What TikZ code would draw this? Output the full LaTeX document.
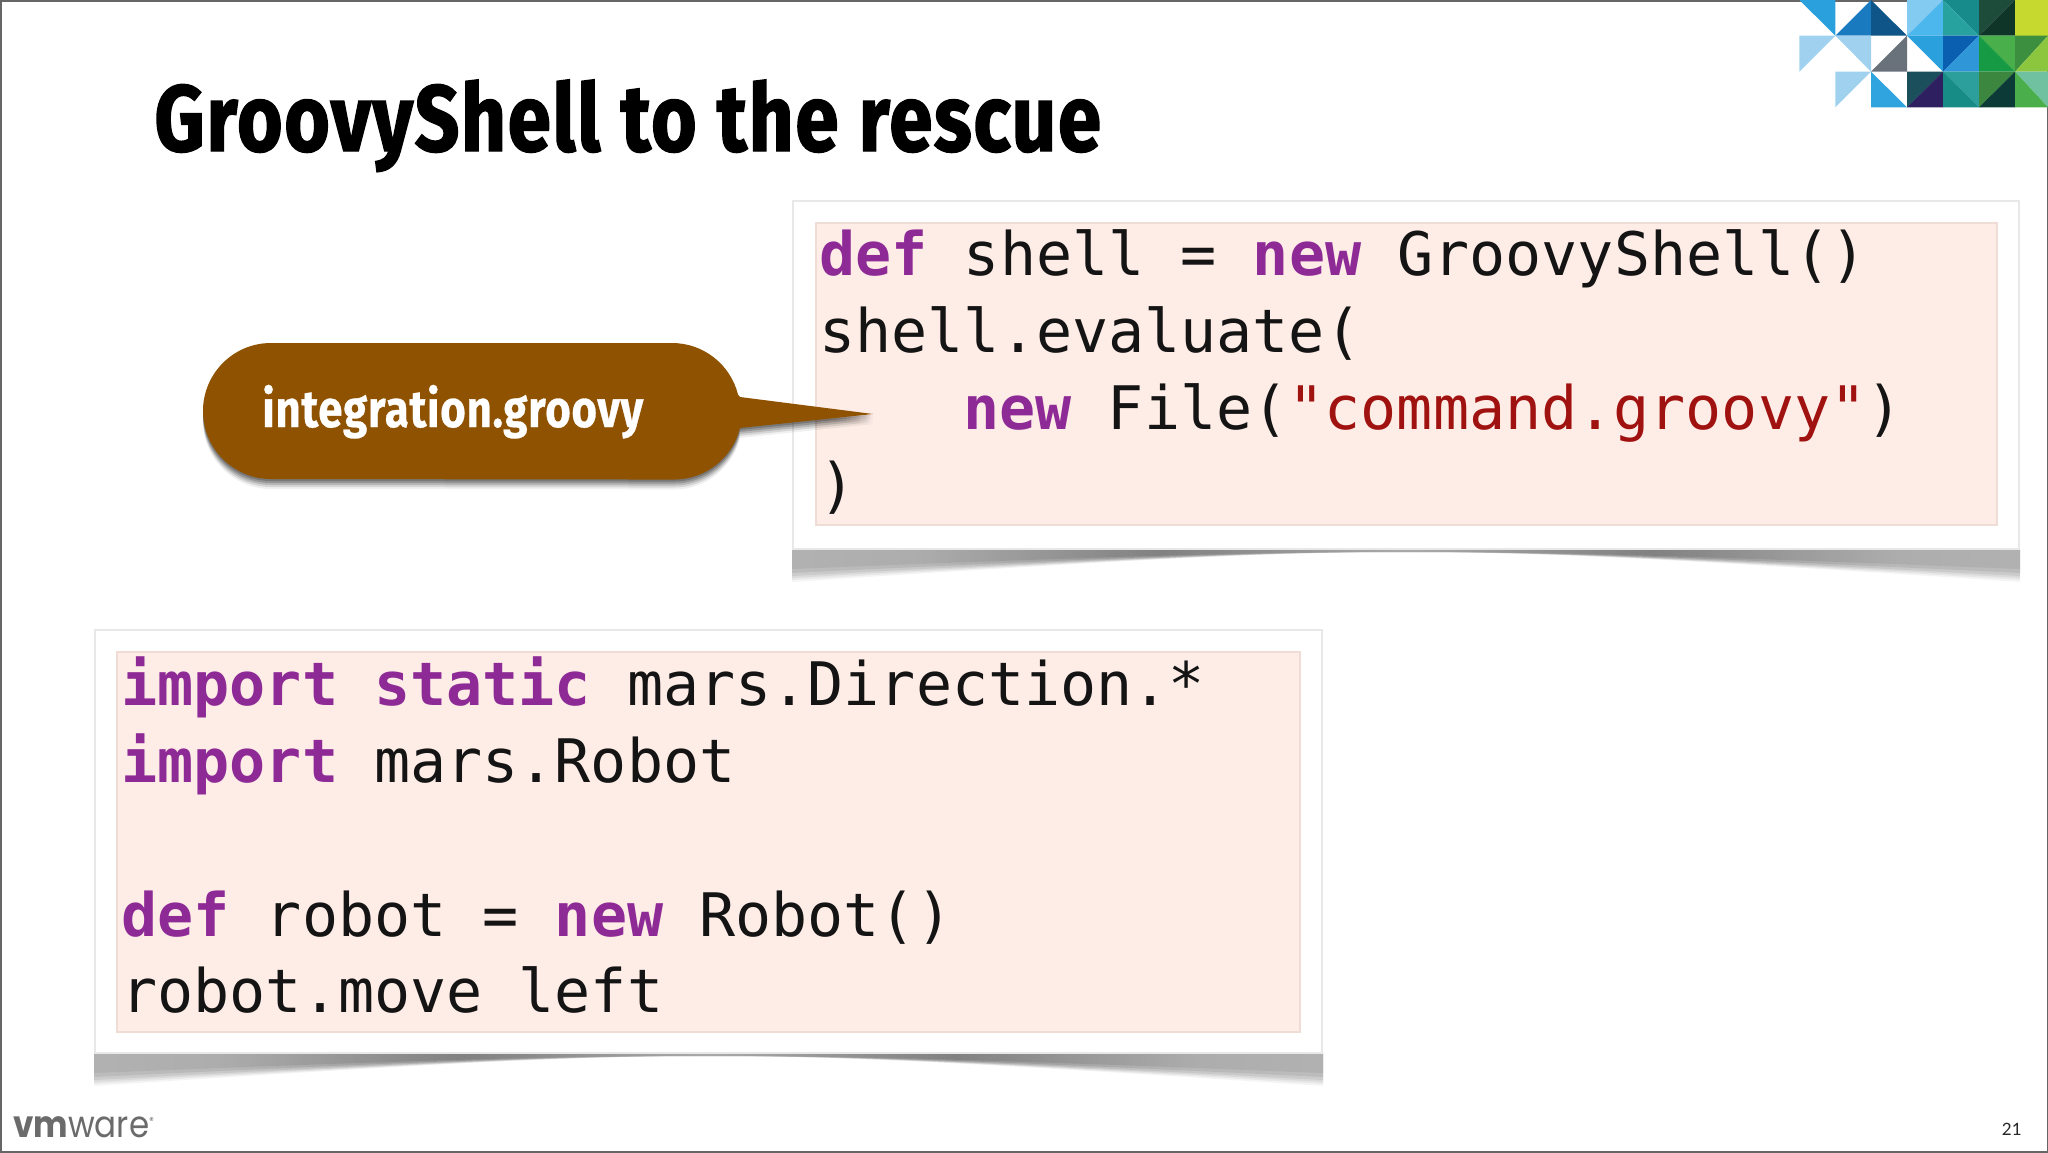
\documentclass[tikz,border=0pt]{standalone}
\usepackage{fontspec}
\setmonofont{DejaVu Sans Mono}
\newfontfamily\titlefont[FakeStretch=0.83,FakeBold=1.5,LetterSpace=1.8]{Fira Sans Bold}
\newfontfamily\callfont[FakeStretch=0.84,FakeBold=0.6,LetterSpace=1.5]{Fira Sans Bold}
\newfontfamily\logofont[FakeStretch=0.88]{Poppins}
\newfontfamily\numfont{Lato}
\definecolor{kw}{HTML}{8E2A96}
\definecolor{str}{HTML}{A01210}
\definecolor{codeblk}{HTML}{141414}
\definecolor{pinkbg}{HTML}{FEEDE7}
\definecolor{pinkln}{HTML}{EFDCD4}
\definecolor{brownc}{HTML}{8F5200}
\pgfdeclarehorizontalshading{curlsh}{100bp}{color(0bp)=(black!30);color(30bp)=(black!40);color(40bp)=(black!62);color(50bp)=(black!42);color(60bp)=(black!62);color(70bp)=(black!40);color(100bp)=(black!30)}
\tikzset{
  frame/.style={fill=white,draw=black!9,line width=.8pt},
  codebg/.style={fill=pinkbg,draw=pinkln,line width=1pt},
  code/.style={anchor=base west,inner sep=0pt,text=codeblk,font=\ttfamily\fontsize{30}{31}\selectfont},
  title/.style={anchor=base west,inner sep=0pt,text=black,font=\titlefont\fontsize{47}{50}\selectfont},
}
\newcommand{\K}[1]{\textcolor{kw}{\textbf{#1}}}
\newcommand{\St}[1]{\textcolor{str}{#1}}
\newcommand{\curlshadow}[3]{% x0, x1, y
  \foreach \d/\o in {33/.1,31/.14,29/.18,27/.24,24/.32,20/.35}{
    \shade[shading=curlsh,fill opacity=\o,opacity=\o]
      ({#1-1},#3) -- ({#1-1},{#3+\d})
      .. controls ({#1+0.3*(#2-#1)},{#3+0.25*\d}) and ({#1+0.4*(#2-#1)},{#3+3}) .. ({0.5*(#1+#2)},{#3+3})
      .. controls ({#1+0.6*(#2-#1)},{#3+3}) and ({#1+0.7*(#2-#1)},{#3+0.25*\d}) .. ({#2+1},{#3+\d})
      -- ({#2+1},#3) -- cycle;
  }
}
\newcommand{\calloutpath}{(271,343) -- (672,343)
  arc[start angle=-90,end angle=-14,radius=68] -- (740,397) -- (873,414) -- (740,428)
  arc[start angle=14,end angle=90,radius=68] -- (271,479)
  arc[start angle=90,end angle=270,radius=68] -- cycle}
\begin{document}
\begin{tikzpicture}[x=0.5pt,y=-0.5pt]
\useasboundingbox (0,0) rectangle (2048,1152);
\fill[white] (0,0) rectangle (2048,1152);
% slide border
\draw[black!60,line width=1.5pt] (0,0) rectangle (2048,1152);

% logo
\begin{scope}[shift={(1760,0)},x=0.16667pt,y=-0.16667pt]
\fill[fill={rgb,255:red,42;green,160;blue,220}] (118,0)--(226,0)--(226,107)--cycle;
\fill[fill={rgb,255:red,26;green,122;blue,191}] (226,107)--(333,0)--(333,107)--cycle;
\fill[fill={rgb,255:red,15;green,85;blue,136}] (333,0)--(333,107)--(441,107)--cycle;
\fill[fill={rgb,255:red,131;green,203;blue,240}] (441,0)--(549,0)--(441,107)--cycle;
\fill[fill={rgb,255:red,75;green,183;blue,236}] (549,0)--(549,107)--(441,107)--cycle;
\fill[fill={rgb,255:red,23;green,139;blue,140}] (549,0)--(657,0)--(657,107)--cycle;
\fill[fill={rgb,255:red,40;green,162;blue,159}] (549,0)--(549,107)--(657,107)--cycle;
\fill[fill={rgb,255:red,29;green,77;blue,58}] (657,0)--(765,0)--(657,107)--cycle;
\fill[fill={rgb,255:red,15;green,53;blue,40}] (765,0)--(765,107)--(657,107)--cycle;
\fill[fill={rgb,255:red,197;green,217;blue,46}] (765,0)--(864,0)--(864,107)--(765,107)--cycle;
\fill[fill={rgb,255:red,160;green,210;blue,239}] (118,107)--(226,107)--(118,215)--cycle;
\fill[fill={rgb,255:red,160;green,210;blue,239}] (226,107)--(333,107)--(333,215)--cycle;
\fill[fill={rgb,255:red,105;green,114;blue,122}] (333,215)--(441,107)--(441,215)--cycle;
\fill[fill={rgb,255:red,42;green,160;blue,220}] (441,107)--(549,215)--(549,107)--cycle;
\fill[fill={rgb,255:red,10;green,95;blue,176}] (549,107)--(657,107)--(549,215)--cycle;
\fill[fill={rgb,255:red,47;green,150;blue,216}] (657,107)--(657,215)--(549,215)--cycle;
\fill[fill={rgb,255:red,72;green,175;blue,74}] (657,107)--(765,107)--(765,215)--cycle;
\fill[fill={rgb,255:red,22;green,154;blue,68}] (657,107)--(657,215)--(765,215)--cycle;
\fill[fill={rgb,255:red,61;green,143;blue,64}] (765,107)--(864,107)--(765,215)--cycle;
\fill[fill={rgb,255:red,140;green,198;blue,63}] (864,107)--(864,215)--(765,215)--cycle;
\fill[fill={rgb,255:red,160;green,210;blue,239}] (226,215)--(333,215)--(226,322)--cycle;
\fill[fill={rgb,255:red,47;green,164;blue,222}] (333,215)--(441,322)--(333,322)--cycle;
\fill[fill={rgb,255:red,27;green,79;blue,91}] (441,215)--(549,215)--(441,322)--cycle;
\fill[fill={rgb,255:red,46;green,32;blue,96}] (549,215)--(549,322)--(441,322)--cycle;
\fill[fill={rgb,255:red,44;green,158;blue,156}] (549,215)--(657,215)--(657,322)--cycle;
\fill[fill={rgb,255:red,23;green,139;blue,133}] (549,215)--(549,322)--(657,322)--cycle;
\fill[fill={rgb,255:red,59;green,135;blue,64}] (657,215)--(765,215)--(657,322)--cycle;
\fill[fill={rgb,255:red,12;green,58;blue,54}] (765,215)--(765,322)--(657,322)--cycle;
\fill[fill={rgb,255:red,111;green,193;blue,160}] (765,215)--(864,215)--(864,322)--cycle;
\fill[fill={rgb,255:red,74;green,175;blue,74}] (765,215)--(765,322)--(864,322)--cycle;
\end{scope}

% title
\node[title] (ttl) at (154,151) {GroovyShell to the rescue};

% upper code panel
\curlshadow{793}{2019}{549}
\draw[frame] (793,201) rectangle (2019,549);
\draw[codebg] (816,223) rectangle (1997,525);
\node[code] (u1) at (819,275) {\K{def} shell = \K{new} GroovyShell()};
\node[code] (u2) at (819,352) {shell.evaluate(};
\node[code] (u3) at (963,429) {\K{new} File(\St{"command.groovy"})};
\node[code] (u4) at (819,506) {)};

% lower code panel
\curlshadow{95}{1322}{1053}
\draw[frame] (95,630) rectangle (1322,1053);
\draw[codebg] (117,652) rectangle (1300,1032);
\node[code] (l1) at (121,705) {\K{import} \K{static} mars.Direction.*};
\node[code] (l2) at (121,782) {\K{import} mars.Robot};
\node[code] (l3) at (121,936) {\K{def} robot = \K{new} Robot()};
\node[code] (l4) at (121,1012) {robot.move left};

% callout
\foreach \dy/\o in {10/.06,8/.1,6/.14,4/.18,2/.2}{
  \fill[black,opacity=\o,shift={(0,\dy)}] \calloutpath;
}
\fill[brownc] \calloutpath;
\node[anchor=base west,inner sep=0pt,text=white,font=\callfont\fontsize{26}{28}\selectfont] (cal) at (262,427) {integration.groovy};

% footer
\node[anchor=base west,inner sep=0pt,text=black!58,font=\logofont\fontsize{18.5}{20}\selectfont] (vm) at (13,1137) {\textbf{vm}ware\raisebox{6.5pt}{\fontsize{5}{5}\selectfont ®}};
\node[anchor=base east,inner sep=0pt,text=black!85,font=\numfont\fontsize{8.5}{12}\selectfont] (num) at (2022,1135) {21};
\end{tikzpicture}
\end{document}
